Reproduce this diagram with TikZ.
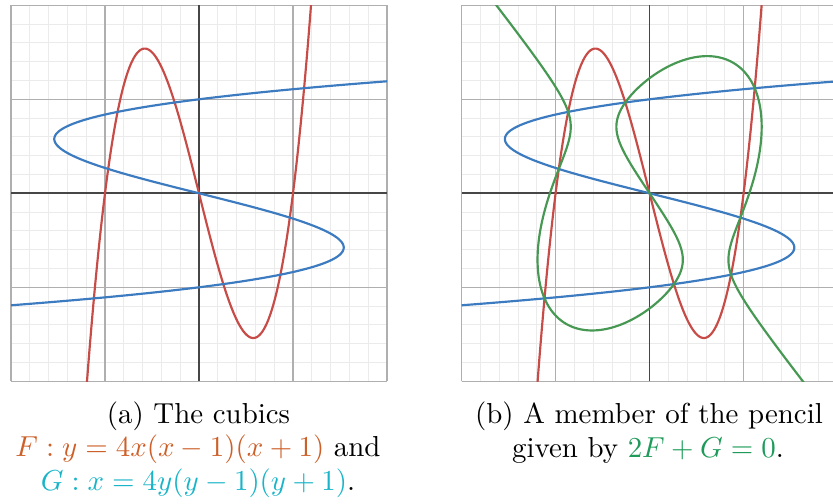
\documentclass[tikz,border=0pt]{standalone}
\usepackage{xcolor}
\definecolor{dsred}{HTML}{C74C48}
\definecolor{dsblue}{HTML}{3C7BC0}
\definecolor{dsgreen}{HTML}{469852}
\definecolor{Fcol}{RGB}{205,95,40}
\definecolor{Gcol}{RGB}{25,180,200}
\definecolor{Hcol}{RGB}{30,155,90}
\definecolor{minorc}{RGB}{235,235,235}
\definecolor{majorc}{RGB}{175,175,175}
\definecolor{axisc}{RGB}{70,70,70}
\tikzset{
  declare function={
    cyY(\t)=1.031859*sin(\t);
    cyW(\u)=max(-1,min(1,-0.7698*(4*\u*\u*\u-3*\u)));
    cyX(\u,\k)=1.224745*cos((acos(cyW(\u))+360*\k)/3);
    cyZ(\u)=max(1,abs(0.7698*(4*\u*\u*\u-3*\u)));
    cyM(\u)=cyZ(\u)+sqrt(max(0,cyZ(\u)*cyZ(\u)-1));
    cyC(\u)=(pow(cyM(\u),1/3)+1/pow(cyM(\u),1/3))/2;
  },
  minorgrid/.style={draw=minorc, line width=0.35pt},
  majorgrid/.style={draw=majorc, line width=0.38pt},
  axisline/.style={draw=axisc, line width=0.55pt},
  curve/.style={line width=0.75pt, line join=round, line cap=round},
  captext/.style={anchor=base, inner sep=0pt, font=\fontsize{10}{11.77}\selectfont},
}
\begin{document}
\begin{tikzpicture}[x=0.34602pt,y=-0.34602pt]
\useasboundingbox (0,0) rectangle (833,504);
% ---------- panel (a)
\begin{scope}[shift={(199,193.3)}, x=32.526pt, y=32.526pt]
  \clip (-2.02,-2.02) rectangle (2.02,2.02);
  \draw[minorgrid] (-2,-2) grid[step=0.2] (2,2);
  \draw[majorgrid] (-2,-2) grid[step=1] (2,2);
  \draw[axisline] (-2,0) -- (2,0);
  \draw[axisline] (0,-2) -- (0,2);
  \clip (-2,-2) rectangle (2,2);
  \draw[curve, dsred] plot[domain=-1.22:1.22, samples=200, variable=\x] (\x, {4*\x*\x*\x-4*\x});
  \draw[curve, dsblue] plot[domain=-1.22:1.22, samples=200, variable=\y] ({4*\y*\y*\y-4*\y}, \y);
\end{scope}
% ---------- panel (b)
\begin{scope}[shift={(649.6,193.3)}, x=32.526pt, y=32.526pt]
  \clip (-2.02,-2.02) rectangle (1.951,2.02);
  \draw[minorgrid] (-2,-2) grid[step=0.2] (2,2);
  \draw[majorgrid] (-2,-2) grid[step=1] (2,2);
  \draw[axisline] (-2,0) -- (2,0);
  \draw[axisline] (0,-2) -- (0,2);
  \clip (-2,-2) rectangle (2,2);
  \draw[curve, dsred] plot[domain=-1.22:1.22, samples=200, variable=\x] (\x, {4*\x*\x*\x-4*\x});
  \draw[curve, dsblue] plot[domain=-1.22:1.22, samples=200, variable=\y] ({4*\y*\y*\y-4*\y}, \y);
  \draw[curve, dsgreen]
    plot[domain=-1.43:-1.031859, samples=40, variable=\u] ({1.224745*cyC(\u)}, {1.414214*\u})
    -- plot[domain=-90:90, samples=150, variable=\t] ({cyX(cyY(\t),0)}, {1.414214*cyY(\t)})
    -- plot[domain=90:-90, samples=150, variable=\t] ({cyX(cyY(\t),2)}, {1.414214*cyY(\t)})
    -- plot[domain=-90:90, samples=150, variable=\t] ({cyX(cyY(\t),1)}, {1.414214*cyY(\t)})
    -- plot[domain=1.031859:1.43, samples=40, variable=\u] ({-1.224745*cyC(\u)}, {1.414214*\u});
\end{scope}
% ---------- captions
\node[captext] (capa1) at (198.5,423.3) {(a) The cubics};
\node[captext] (capa2) at (198,457) {\textcolor{Fcol}{$F : y = 4x(x-1)(x+1)$} and};
\node[captext] (capa3) at (198,491) {\textcolor{Gcol}{$G : x = 4y(y-1)(y+1)$}.};
\node[captext] (capb1) at (649,423.3) {(b) A member of the pencil};
\node[captext] (capb2) at (648,457.5) {given by \textcolor{Hcol}{$2F+G=0$}.};
\end{tikzpicture}
\end{document}
